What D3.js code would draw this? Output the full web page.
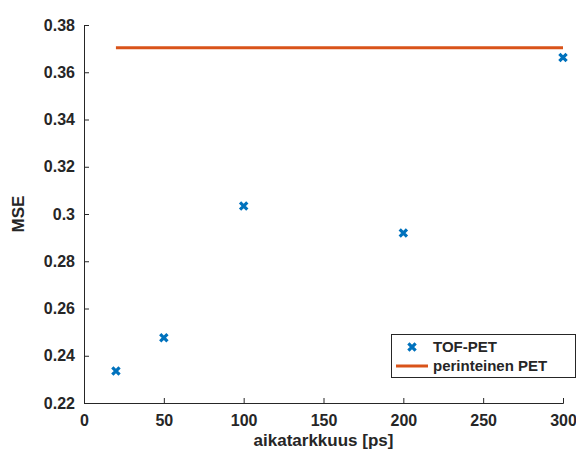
<!DOCTYPE html>
<html>
<head>
<meta charset="utf-8">
<script src="https://cdn.jsdelivr.net/npm/d3@7"></script>
<style>
  body { margin: 0; background: #fff; }
  text { font-family: "Liberation Sans", Arial, sans-serif; font-weight: bold; fill: #262626; }
</style>
</head>
<body>
<div id="chart"></div>
<script>
// Resolution values and measured MSE
const resolution = [20, 50, 100, 200, 300];
const tofMse = [0.2335, 0.2476, 0.3034, 0.292, 0.3662];

// Conventional PET reference level
const petRange = [20, 300];
const petMse = 0.3704;

const xTicks = [0, 50, 100, 150, 200, 250, 300];
const yTicks = [0.22, 0.24, 0.26, 0.28, 0.3, 0.32, 0.34, 0.36, 0.38];

const width = 576, height = 452;
const margin = { left: 84, right: 13, top: 25, bottom: 49 };

const svg = d3.select("#chart").append("svg")
  .attr("width", width).attr("height", height);

const x = d3.scaleLinear().domain([0, 300]).range([margin.left, width - margin.right]);
const y = d3.scaleLinear().domain([0.22, 0.38]).range([height - margin.bottom, margin.top]);

// Axes with inward ticks
const xAxis = svg.append("g")
  .attr("transform", `translate(0,${y(0.22)})`)
  .call(d3.axisBottom(x).tickValues(xTicks).tickSize(-5).tickPadding(9).tickFormat(d3.format("d")));
const yAxis = svg.append("g")
  .attr("transform", `translate(${x(0)},0)`)
  .call(d3.axisLeft(y).tickValues(yTicks).tickSize(-5).tickPadding(9)
    .tickFormat(d => d === 0.3 ? "0.3" : d.toFixed(2)));

for (const g of [xAxis, yAxis]) {
  g.select(".domain").attr("stroke", "#262626");
  g.selectAll(".tick line").attr("stroke", "#262626");
  g.selectAll(".tick text").style("font-size", "16px").attr("fill", "#262626");
}
xAxis.selectAll(".tick text").attr("dy", "0.85em");

// Axis labels
svg.append("text")
  .attr("x", (x(0) + x(300)) / 2).attr("y", 446)
  .attr("text-anchor", "middle").style("font-size", "17px")
  .text("aikatarkkuus [ps]");
svg.append("text")
  .attr("transform", `translate(24,${(y(0.22) + y(0.38)) / 2}) rotate(-90)`)
  .attr("text-anchor", "middle").style("font-size", "17px")
  .text("MSE");

// Conventional PET line
svg.append("line")
  .attr("x1", x(petRange[0])).attr("x2", x(petRange[1]))
  .attr("y1", y(petMse)).attr("y2", y(petMse))
  .attr("stroke", "#D95319").attr("stroke-width", 3);

// TOF-PET markers
const cross = d3.symbol().type(d3.symbolX).size(36);
svg.append("g").selectAll("path")
  .data(resolution.map((r, i) => ({ r, v: tofMse[i] })))
  .join("path")
  .attr("d", cross)
  .attr("transform", d => `translate(${x(d.r)},${y(d.v)})`)
  .attr("fill", "none").attr("stroke", "#0072BD").attr("stroke-width", 3.2);

// Legend
const legend = svg.append("g").attr("transform", "translate(391,334)");
legend.append("rect")
  .attr("x", 0.5).attr("y", 0.5).attr("width", 184).attr("height", 43)
  .attr("fill", "#fff").attr("stroke", "#262626").attr("stroke-width", 1);
legend.append("path")
  .attr("d", cross).attr("transform", "translate(21,13)")
  .attr("fill", "none").attr("stroke", "#0072BD").attr("stroke-width", 3.2);
legend.append("line")
  .attr("x1", 5).attr("x2", 37).attr("y1", 32).attr("y2", 32)
  .attr("stroke", "#D95319").attr("stroke-width", 3);
legend.append("text").attr("x", 42).attr("y", 18).style("font-size", "15px").attr("fill", "#000").text("TOF-PET");
legend.append("text").attr("x", 42).attr("y", 37).style("font-size", "15px").attr("fill", "#000").text("perinteinen PET");
</script>
</body>
</html>
